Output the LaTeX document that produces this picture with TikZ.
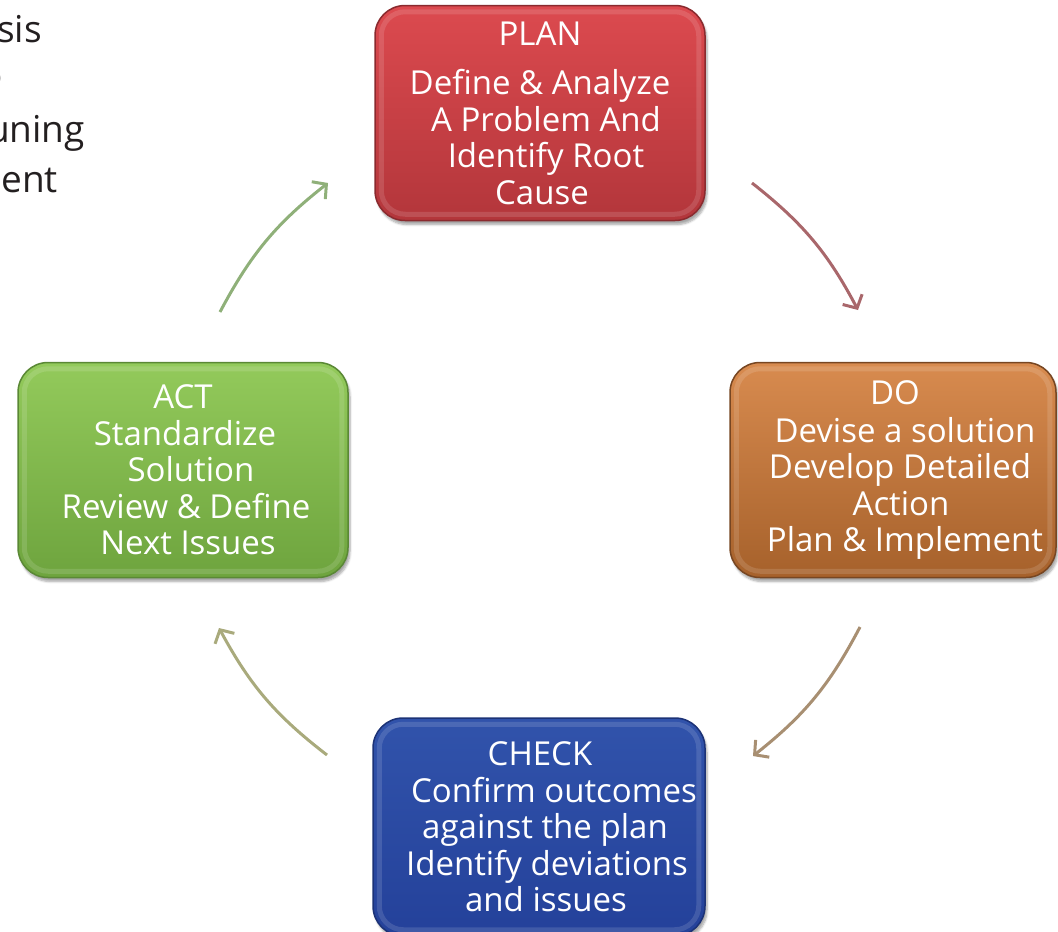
\documentclass[tikz,border=0pt]{standalone}
\usepackage{fontspec}
\setmainfont{Open Sans}
\usetikzlibrary{arrows.meta,shadows.blur}
\definecolor{planTop}{HTML}{DC4A4F}
\definecolor{planBot}{HTML}{B3363B}
\definecolor{planRim}{HTML}{8A2A2E}
\definecolor{doTop}{HTML}{D88B4F}
\definecolor{doBot}{HTML}{A6612B}
\definecolor{doRim}{HTML}{774622}
\definecolor{chkTop}{HTML}{3153AB}
\definecolor{chkBot}{HTML}{24419A}
\definecolor{chkRim}{HTML}{1C3276}
\definecolor{actTop}{HTML}{93CA5B}
\definecolor{actBot}{HTML}{6EA43E}
\definecolor{actRim}{HTML}{5A8835}
\definecolor{arPD}{HTML}{A9676B}
\definecolor{arDC}{HTML}{A88F72}
\definecolor{arCA}{HTML}{A9AA7C}
\definecolor{arAP}{HTML}{8FB079}
\definecolor{sideText}{HTML}{231F20}
\newcommand{\ind}[1]{\hspace*{#1pt}}
\tikzset{
  phasebox/.style={rounded corners=30pt, minimum width=330pt, minimum height=215pt,
    line width=1.5pt, text=white, align=center, inner sep=0pt,
    font=\fontsize{33}{36.5}\selectfont,
    blur shadow={shadow xshift=2pt, shadow yshift=-4pt, shadow blur steps=6, shadow opacity=35}},
  bevel/.style={line width=5pt, white, opacity=0.13, rounded corners=24pt},
  cyclearrow/.style={line width=3pt, -{Straight Barb[length=10pt,width=22pt,line width=3pt]}},
  sidetext/.style={text=sideText, font=\fontsize{37}{40}\selectfont, inner sep=0pt, anchor=base east}
}
\begin{document}
\begin{tikzpicture}[x=1pt,y=-1pt]
\useasboundingbox (0,0) rectangle (1058,932);
\clip (0,0) rectangle (1058,932);

% side text fragments (cut at the left edge, as in the reference)
\node[sidetext] (t1) at (42,42) {sis};
\node[sidetext] (t2) at (3.5,88) {o};
\node[sidetext] (t3) at (85,142) {uning};
\node[sidetext] (t4) at (58,192) {ent};

% boxes
\node[phasebox, draw=planRim, top color=planTop, bottom color=planBot] (plan) at (540,113)
  {PLAN\\[13pt]Define \& Analyze\\\ind{12}A Problem And\\\ind{12}Identify Root\\\ind{4}Cause};
\node[phasebox, draw=doRim, top color=doTop, bottom color=doBot, minimum width=326pt] (do) at (893,470)
  {\ind{4}DO\\[1pt]\ind{24}Devise a solution\\\ind{14}Develop Detailed\\\ind{16}Action\\\ind{24}Plan \& Implement};
\node[phasebox, draw=chkRim, top color=chkTop, bottom color=chkBot, minimum width=332pt, minimum height=218pt] (check) at (539,827)
  {\ind{2}CHECK\\\ind{30}Confirm outcomes\\\ind{12}against the plan\\\ind{16}Identify deviations\\\ind{14}and issues};
\node[phasebox, draw=actRim, top color=actTop, bottom color=actBot] (act) at (183,470)
  {ACT\\\ind{4}Standardize\\\ind{16}Solution\\\ind{6}Review \& Define\\\ind{10}Next Issues};

% bevel highlights
\foreach \b in {plan,do,check,act}{
  \draw[bevel] ([shift={(7,7)}]\b.north west) rectangle ([shift={(-7,-7)}]\b.south east);
}

% arrow end points
\coordinate (pd1) at (752,183);
\coordinate (pd2) at (858,310);
\coordinate (dc1) at (860,627);
\coordinate (dc2) at (753,756);
\coordinate (ca1) at (327,755);
\coordinate (ca2) at (219,628);
\coordinate (ap1) at (220,312);
\coordinate (ap2) at (328,183);

\draw[cyclearrow, arPD] (pd1) to[bend left=12] (pd2);
\draw[cyclearrow, arDC] (dc1) to[bend left=12] (dc2);
\draw[cyclearrow, arCA] (ca1) to[bend left=12] (ca2);
\draw[cyclearrow, arAP] (ap1) to[bend left=12] (ap2);
\end{tikzpicture}
\end{document}
